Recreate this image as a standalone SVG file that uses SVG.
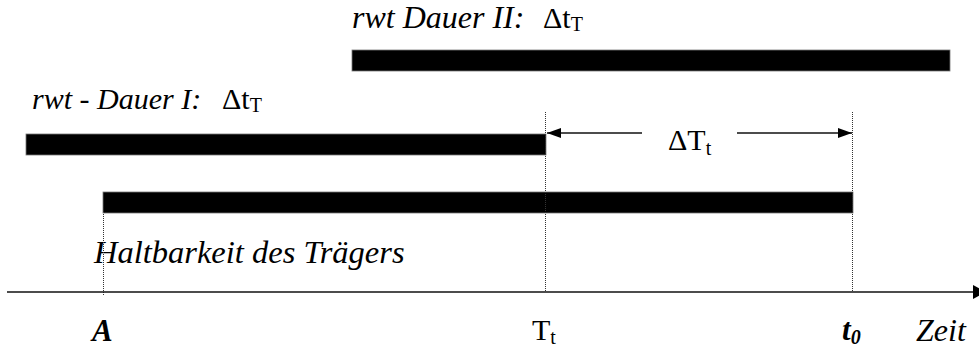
<svg xmlns="http://www.w3.org/2000/svg" width="979" height="349" viewBox="0 0 979 349">
<style>
.it{font-family:"Liberation Serif","Times New Roman",serif;font-style:italic;font-size:31px;fill:#000}
.rm{font-family:"Liberation Serif","Times New Roman",serif;font-size:30px;fill:#000}
.bi{font-family:"Liberation Serif","Times New Roman",serif;font-style:italic;font-weight:bold;font-size:31px;fill:#000}
.sub{font-size:20px}
.bar{fill:#000;stroke:#777;stroke-width:0.8}
.dot{stroke:#333;stroke-width:1;stroke-dasharray:1,1;fill:none}
.ln{stroke:#111;stroke-width:1.6;fill:none}
</style>
<defs>
<marker id="ah" viewBox="0 0 14 10" refX="14" refY="5" markerWidth="14" markerHeight="10" markerUnits="userSpaceOnUse" orient="auto">
<path d="M0,0 L14,5 L0,10 Z" fill="#000"/>
</marker>
</defs>
<g id="bar-dauer2">
<rect class="bar" x="352" y="50" width="598" height="21"/>
<text class="it" x="352" y="28" style="font-size:32px">rwt Dauer II:</text>
<text class="rm" x="543" y="28">Δt<tspan class="sub" dy="3">T</tspan></text>
</g>
<g id="bar-dauer1">
<rect class="bar" x="26" y="134" width="520" height="21"/>
<text class="it" x="32" y="109" style="font-size:30px">rwt - Dauer I:</text>
<text class="rm" x="222" y="109">Δt<tspan class="sub" dy="3">T</tspan></text>
</g>
<g id="bar-haltbarkeit">
<rect class="bar" x="103" y="192" width="750" height="21"/>
<text class="it" x="94" y="263" style="font-size:32.5px">Haltbarkeit des Trägers</text>
</g>
<g id="connectors">
<line class="dot" x1="103.5" y1="214" x2="103.5" y2="295"/>
<line class="dot" x1="545.5" y1="112" x2="545.5" y2="292"/>
<line class="dot" x1="852.5" y1="112" x2="852.5" y2="292"/>
<line class="ln" x1="642" y1="133" x2="547" y2="133" marker-end="url(#ah)"/>
<line class="ln" x1="737" y1="133" x2="852" y2="133" marker-end="url(#ah)"/>
<line class="ln" x1="7" y1="292" x2="974" y2="292"/>
<path d="M973,285 L986,292 L973,299 Z" fill="#000"/>
</g>
<g id="label-dT">
<text class="rm" x="668" y="150">ΔT<tspan class="sub" dy="5">t</tspan></text>
</g>
<g id="axis-labels">
<text class="bi" x="92" y="341">A</text>
<text class="rm" x="532" y="340">T<tspan class="sub" dy="4">t</tspan></text>
<text class="bi" x="842" y="340">t<tspan class="sub" dy="4">0</tspan></text>
<text class="it" x="916" y="341" style="font-size:32px">Zeit</text>
</g>
</svg>
